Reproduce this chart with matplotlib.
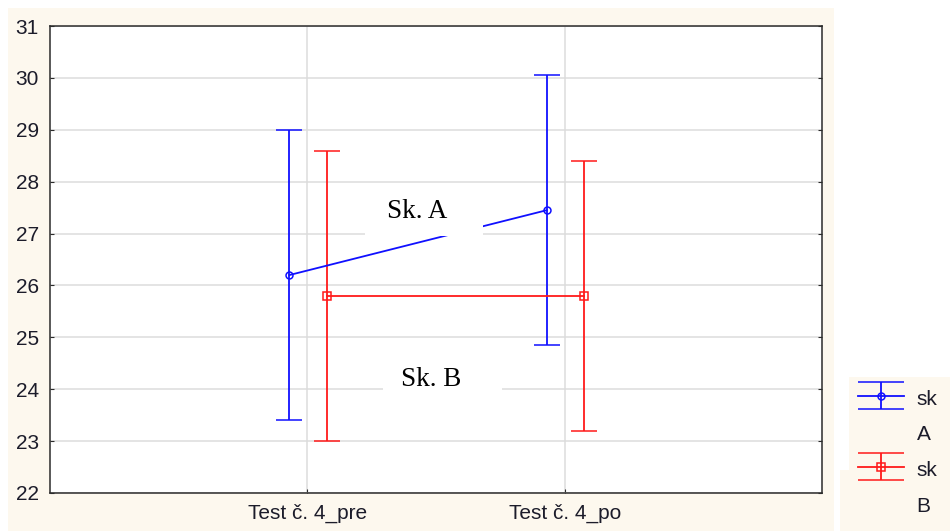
import matplotlib.pyplot as plt
from matplotlib.patches import Rectangle
from matplotlib.lines import Line2D
from matplotlib.legend_handler import HandlerErrorbar
import numpy as np

# data
groups = ['Test č. 4_pre', 'Test č. 4_po']
a_mean = [26.2, 27.45]
a_low = [23.4, 24.85]
a_high = [29.0, 30.05]
b_mean = [25.8, 25.8]
b_low = [23.0, 23.2]
b_high = [28.6, 28.4]
yticks = list(range(22, 32))

cream = '#fdf8ee'
W, H = 950, 531

fig = plt.figure(figsize=(9.5, 5.31), dpi=100)
fig.patch.set_facecolor('white')

# cream panels behind plot and legend
def fig_rect(x0, y0, x1, y1):
    fig.patches.append(Rectangle((x0 / W, 1 - y1 / H), (x1 - x0) / W, (y1 - y0) / H,
                                 transform=fig.transFigure, facecolor=cream,
                                 edgecolor='none', zorder=-10))

fig_rect(8, 8, 834, 531)
fig_rect(849, 377, 950, 531)
fig_rect(840, 470, 950, 531)

ax = fig.add_axes([50 / W, 1 - 493 / H, 772 / W, 467 / H])
ax.set_facecolor('white')

x = np.arange(len(groups))
a_mean = np.array(a_mean)
b_mean = np.array(b_mean)
a_err = [a_mean - np.array(a_low), np.array(a_high) - a_mean]
b_err = [b_mean - np.array(b_low), np.array(b_high) - b_mean]

ea = ax.errorbar(x - 0.07, a_mean, yerr=a_err, color='#1010ff', lw=1.3, elinewidth=1.3,
                 capsize=9.7, capthick=1.3, marker='o', ms=5, mfc='none', mew=1.1, zorder=3)
eb = ax.errorbar(x + 0.075, b_mean, yerr=b_err, color='#ff1a1a', lw=1.3, elinewidth=1.3,
                 capsize=9.7, capthick=1.3, marker='s', ms=6, mfc='none', mew=1.1, zorder=3)

ax.set_xlim(-1, 2)
ax.set_ylim(22, 31)
ax.set_yticks(yticks)
ax.set_xticks(x)
ax.set_xticklabels(groups)
ax.grid(True, color='#dcdcdc', lw=1.1)
ax.set_axisbelow(True)
for s in ax.spines.values():
    s.set_color('#2b2b2b')
    s.set_linewidth(1.1)
ax.tick_params(direction='in', length=3, color='#2b2b2b', right=True, top=False,
               labelsize=15, labelcolor='#1c1c2a', pad=8,
               labelfontfamily='Liberation Sans')

# text labels with white boxes
ax.add_patch(Rectangle((0.224, 26.95), 0.459, 0.8, facecolor='white', edgecolor='none', zorder=4))
ax.text(0.428, 27.42, 'Sk. A', family='Liberation Serif', fontsize=19.5,
        ha='center', va='center', zorder=5)
ax.text(0.48, 24.06, 'Sk. B', family='Liberation Serif', fontsize=19.5,
        ha='center', va='baseline', zorder=5)
ax.add_patch(Rectangle((0.294, 23.95), 0.462, 0.12, facecolor='white', edgecolor='none', zorder=6))


class WideCaps(HandlerErrorbar):
    # legend caps as wide as the handle line
    def create_artists(self, *args, **kw):
        arts = super().create_artists(*args, **kw)
        for a in arts:
            if isinstance(a, Line2D) and a.get_marker() == '_':
                a.set_markersize(33)
        return arts


# legend
blank = Line2D([], [], color='none')
leg = fig.legend([ea, blank, eb, blank], ['sk', 'A', 'sk', 'B'],
                 loc='upper left', bbox_to_anchor=(849 / W, 1 - 377 / H),
                 frameon=False, borderpad=0.45, borderaxespad=0,
                 handlelength=2.2, handletextpad=0.6, handleheight=1.3,
                 labelspacing=0.62,
                 prop={'family': 'Liberation Sans', 'size': 15},
                 handler_map={type(ea): WideCaps(xerr_size=0.5, yerr_size=0.65)})
for t in leg.get_texts():
    t.set_color('#1c1c2a')

fig.savefig('out.png', dpi=100)
